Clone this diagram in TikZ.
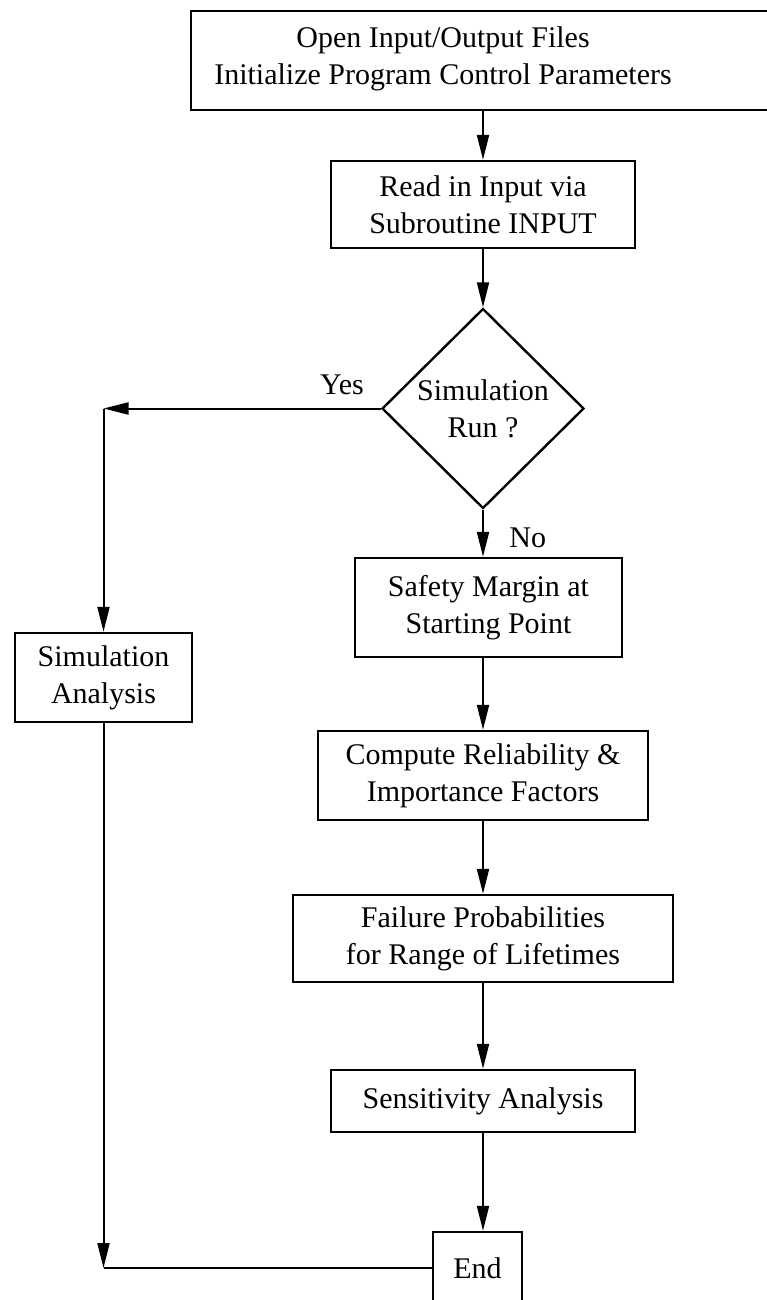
\documentclass[tikz,border=0pt]{standalone}
\usepackage{fontspec}
\setmainfont{Liberation Serif}
\usetikzlibrary{shapes.geometric,arrows.meta}

\begin{document}
\begin{tikzpicture}[x=1pt, y=-1pt,
        every node/.style={font=\fontsize{30}{37}\selectfont},
        box/.style={draw, line width=2.4pt, align=center, inner sep=0pt},
        decision/.style={draw, diamond, aspect=1, line width=2.4pt, align=center, inner sep=0pt},
        arr/.style={line width=2pt, -{Triangle[length=25pt, width=12pt]}},
        link/.style={line width=2pt}]

            % Page frame (the top box and the End box run off the page)
            \useasboundingbox (0,0) rectangle (767,1300);
            \fill[white] (0,0) rectangle (767,1300);
            \clip (0,0) rectangle (767,1300);

            % --------------------------------------------------
            % Main column
            % --------------------------------------------------
            \node[box, minimum width=590pt, minimum height=99pt] (init) at (486,60.5) {};
            \node[align=center] (initText) at (443,59) {Open Input/Output Files\\Initialize Program Control Parameters};

            \node[box, minimum width=304pt, minimum height=87pt] (read) at (483,204.5) {Read in Input via\\Subroutine INPUT};

            \node[decision, minimum width=202pt, minimum height=200pt] (decide) at (483,408.5) {Simulation\\Run ?};

            \node[box, minimum width=267pt, minimum height=99pt] (safety) at (488.5,607.5) {Safety Margin at\\Starting Point};
            \node[box, minimum width=330pt, minimum height=89pt] (compute) at (483,775.5) {Compute Reliability \&\\Importance Factors};
            \node[box, minimum width=380pt, minimum height=87pt] (failure) at (483,938.5) {Failure Probabilities\\for Range of Lifetimes};
            \node[box, minimum width=304pt, minimum height=62pt] (sens) at (483,1101) {Sensitivity Analysis};
            \node[box, minimum width=89pt, minimum height=72pt] (endBox) at (477.5,1268) {End};

            % --------------------------------------------------
            % Simulation branch
            % --------------------------------------------------
            \node[box, minimum width=177pt, minimum height=89pt] (simAn) at (103.5,677.5) {Simulation\\Analysis};

            \coordinate (yesCorner) at (decide.west -| simAn.north);
            \coordinate (endCorner) at (simAn.south |- endBox.west);

            % Connectors
            \draw[arr] (read.north |- init.south) -- (read.north);
            \draw[arr] (read.south) -- (decide.north);
            \draw[arr] (decide.west) -- node[pos=0.14, above=9pt] (yesLabel) {Yes} (yesCorner);
            \draw[arr] (yesCorner) -- (simAn.north);
            \draw[arr] (decide.south) -- node[pos=0.6, right=22pt] (noLabel) {No} (decide.south |- safety.north);
            \draw[arr] (compute.north |- safety.south) -- (compute.north);
            \draw[arr] (compute.south) -- (failure.north);
            \draw[arr] (failure.south) -- (sens.north);
            \draw[arr] (sens.south) -- (sens.south |- endBox.north);
            \draw[arr] (simAn.south) -- (endCorner);
            \draw[link] (endCorner) -- (endBox.west);

        \end{tikzpicture}
\end{document}
